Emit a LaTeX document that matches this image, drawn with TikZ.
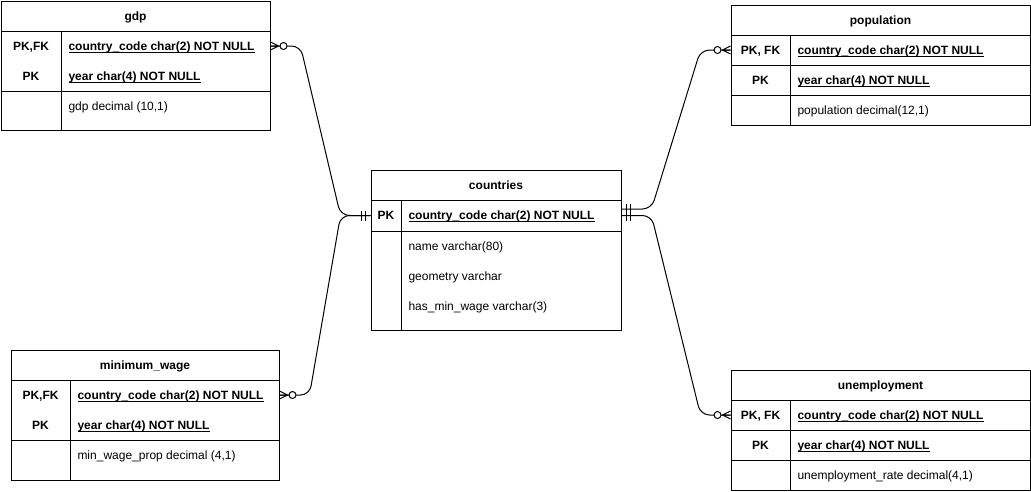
\documentclass[tikz,border=0pt]{standalone}
\usepackage{fontspec}
\setmainfont{Liberation Sans}
\usetikzlibrary{calc}

% bold, underlined primary-key field text
\newcommand\pkfield[1]{\setbox0\hbox{\bfseries #1}\rlap{\rule[-2pt]{\wd0}{0.8pt}}\box0}

\begin{document}
\begin{tikzpicture}[x=1pt,y=-1pt,line width=1pt,
  font=\fontsize{12}{14}\selectfont,
  tbox/.style={draw,inner sep=0pt,anchor=north west},
  ttitle/.style={font=\fontsize{12}{14}\selectfont\bfseries,inner sep=0pt,anchor=base},
  tkey/.style={font=\fontsize{12}{14}\selectfont\bfseries,inner sep=0pt,anchor=base},
  tfield/.style={inner sep=0pt,anchor=base west},
  rowref/.style={inner sep=0pt,minimum height=30pt},
  conn/.style={rounded corners=9pt},
  zeromany/.pic={\draw (0,-4) -- (8,0) -- (0,4) (0,0) -- (8,0);
                 \draw[fill=white] (13,0) circle (3.5pt);},
  onlyone/.pic={\draw (5,-5) -- (5,5) (9,-5) -- (9,5);}
]
\useasboundingbox (0,0) rectangle (1031,491);

% ---------- gdp ----------
\node[tbox,minimum width=269pt,minimum height=129pt] (gdp) at (1,1) {};
\draw (1,31) -- (270,31) (1,91) -- (270,91) (61,31) -- (61,130);
\node[rowref,minimum width=269pt] (gdp-r1) at (135.5,46) {};
\node[ttitle] (gdp-t) at (135.5,20.3) {gdp};
\node[tkey] (gdp-k1) at (31,50.3) {PK,FK};
\node[tkey] (gdp-k2) at (31,80.3) {PK};
\node[tfield] (gdp-f1) at (68,50.3) {\pkfield{country\_code char(2) NOT NULL}};
\node[tfield] (gdp-f2) at (68,80.3) {\pkfield{year char(4) NOT NULL}};
\node[tfield] (gdp-f3) at (68,110.3) {gdp decimal (10,1)};

% ---------- minimum_wage ----------
\node[tbox,minimum width=268pt,minimum height=130pt] (mw) at (11,350) {};
\draw (11,380) -- (279,380) (11,440) -- (279,440) (70,380) -- (70,480);
\node[rowref,minimum width=268pt] (mw-r1) at (145,395) {};
\node[ttitle] (mw-t) at (145,369.3) {minimum\_wage};
\node[tkey] (mw-k1) at (40.5,399.3) {PK,FK};
\node[tkey] (mw-k2) at (40.5,429.3) {PK};
\node[tfield] (mw-f1) at (77,399.3) {\pkfield{country\_code char(2) NOT NULL}};
\node[tfield] (mw-f2) at (77,429.3) {\pkfield{year char(4) NOT NULL}};
\node[tfield] (mw-f3) at (77,459.3) {min\_wage\_prop decimal (4,1)};

% ---------- countries ----------
\node[tbox,minimum width=250pt,minimum height=160pt] (cty) at (371,170) {};
\draw (371,200) -- (621,200) (371,231) -- (621,231) (401,200) -- (401,330);
\node[rowref,minimum width=250pt,minimum height=31pt] (cty-r1) at (496,215.5) {};
\node[ttitle] (cty-t) at (496,189.3) {countries};
\node[tkey] (cty-k1) at (386,219.8) {PK};
\node[tfield] (cty-f1) at (408,219.8) {\pkfield{country\_code char(2) NOT NULL}};
\node[tfield] (cty-f2) at (408,250.3) {name varchar(80)};
\node[tfield] (cty-f3) at (408,280.3) {geometry varchar};
\node[tfield] (cty-f4) at (408,310.3) {has\_min\_wage varchar(3)};

% ---------- population ----------
\node[tbox,minimum width=299pt,minimum height=120pt] (pop) at (731,5) {};
\draw (731,35) -- (1030,35) (731,65) -- (1030,65) (731,95) -- (1030,95) (790,35) -- (790,125);
\node[rowref,minimum width=299pt] (pop-r1) at (880.5,50) {};
\node[ttitle] (pop-t) at (880.5,24.3) {population};
\node[tkey] (pop-k1) at (760.5,54.3) {PK, FK};
\node[tkey] (pop-k2) at (760.5,84.3) {PK};
\node[tfield] (pop-f1) at (797,54.3) {\pkfield{country\_code char(2) NOT NULL}};
\node[tfield] (pop-f2) at (797,84.3) {\pkfield{year char(4) NOT NULL}};
\node[tfield] (pop-f3) at (797,114.3) {population decimal(12,1)};

% ---------- unemployment ----------
\node[tbox,minimum width=299pt,minimum height=120pt] (une) at (731,370) {};
\draw (731,400) -- (1030,400) (731,430) -- (1030,430) (731,460) -- (1030,460) (790,400) -- (790,490);
\node[rowref,minimum width=299pt] (une-r1) at (880.5,415) {};
\node[ttitle] (une-t) at (880.5,389.3) {unemployment};
\node[tkey] (une-k1) at (760.5,419.3) {PK, FK};
\node[tkey] (une-k2) at (760.5,449.3) {PK};
\node[tfield] (une-f1) at (797,419.3) {\pkfield{country\_code char(2) NOT NULL}};
\node[tfield] (une-f2) at (797,449.3) {\pkfield{year char(4) NOT NULL}};
\node[tfield] (une-f3) at (797,479.3) {unemployment\_rate decimal(4,1)};

% ---------- relationships ----------
\coordinate (cty-popend) at ($(cty-r1.east)+(0,-6.5)$);
\draw[conn] (gdp-r1.east) -- ++(30,0) -- ($(cty-r1.west)+(-30,0)$) -- (cty-r1.west);
\draw[conn] (mw-r1.east) -- ++(30,0) -- ($(cty-r1.west)+(-30,0)$) -- (cty-r1.west);
\draw[conn] (cty-popend) -- ++(30,0) -- ($(pop-r1.west)+(-30,0)$) -- (pop-r1.west);
\draw[conn] (cty-r1.east) -- ++(30,0) -- ($(une-r1.west)+(-30,0)$) -- (une-r1.west);

% cardinality markers
\pic at (gdp-r1.east) {zeromany};
\pic at (mw-r1.east) {zeromany};
\pic[rotate=180] at (pop-r1.west) {zeromany};
\pic[rotate=180] at (une-r1.west) {zeromany};
\pic[rotate=180] at (cty-r1.west) {onlyone};
\pic at (cty-popend) {onlyone};
\pic at (cty-r1.east) {onlyone};
\end{tikzpicture}
\end{document}
